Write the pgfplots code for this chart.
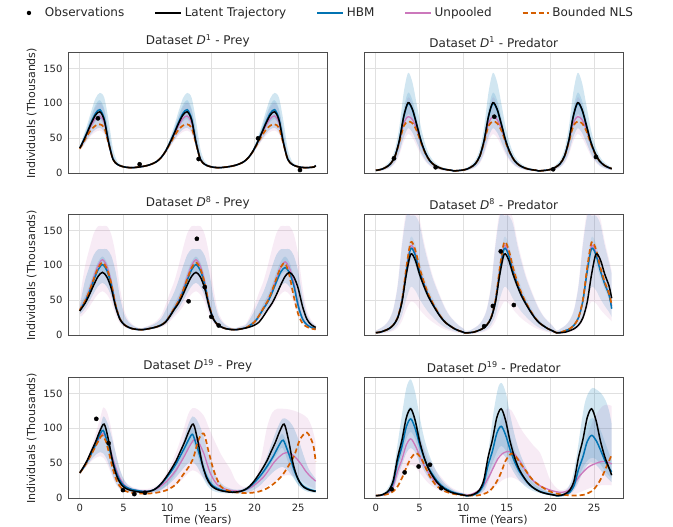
\documentclass[border=0pt]{standalone}
\usepackage{fontspec}
\setmainfont{DejaVu Sans}
\usepackage{pgfplots}
\usepackage{pgfplotstable}
\pgfplotsset{compat=1.18}
\usepgfplotslibrary{fillbetween}

\definecolor{hbm}{RGB}{1,115,178}
\definecolor{unp}{RGB}{204,120,188}
\definecolor{nls}{RGB}{213,94,0}
\definecolor{txt}{RGB}{38,38,38}

\pgfplotsset{
  panel/.style={
    scale only axis, width=259.5pt, height=121pt, anchor=south west,
    xmin=-1.35, xmax=28.35, ymin=-1, ymax=172,
    xtick={0,5,10,15,20,25}, ytick={0,50,100,150},
    xmajorgrids, ymajorgrids,
    major grid style={draw=black!12, line width=0.7pt},
    axis line style={draw=black!70, line width=1pt},
    major tick length=0pt,
    tick label style={font=\fontsize{10}{12}\selectfont, text=txt},
    xticklabel style={yshift=-2pt}, yticklabel style={xshift=-2pt},
    /pgf/number format/assume math mode=true,
    title style={font=\fontsize{12}{14}\selectfont, text=txt, yshift=-4pt},
    label style={font=\fontsize{11}{13}\selectfont, text=txt},
    xlabel style={yshift=4pt},
  },
  nox/.style={xticklabels={,,,,,}},
  noy/.style={yticklabels={,,,}},
  latline/.style={black, line width=1.5pt, smooth, tension=0.5},
  hbmline/.style={hbm, line width=1.5pt, smooth, tension=0.5},
  unpline/.style={unp, line width=1.3pt, smooth, tension=0.5},
  nlsline/.style={nls, line width=1.7pt, dash pattern=on 5pt off 3pt, smooth, tension=0.5},
  hbmband/.style={fill=hbm, fill opacity=0.18, draw=none},
  hbmband2/.style={fill=hbm, fill opacity=0.14, draw=none},
  unpband/.style={fill=unp, fill opacity=0.15, draw=none},
  env/.style={draw=none, smooth, tension=0.5, forget plot},
  obs/.style={only marks, mark=*, mark size=2.1pt, black, forget plot},
}

% panels D1 and D8: t, latent, model means and band edges
\pgfplotstableread{
t lat hbm unp nls hlo hhi hlo2 hhi2 ulo uhi
0 36.0 36.1 35.7 35.2 33.5 38.0 34.8 37.2 33.0 37.5
0.3 43.2 43.5 42.7 41.7 37.9 49.2 40.8 46.8 37.2 46.5
0.8 56.8 57.5 55.4 52.7 47.6 67.5 52.6 63.3 46.1 62.3
1.3 71.2 72.7 68.2 62.3 56.5 88.4 64.5 81.7 54.0 79.7
1.8 83.2 85.7 78.2 68.2 62.8 107.2 73.9 97.8 59.2 94.8
2.3 88.0 91.0 82.0 70.0 65.0 115.0 77.5 104.5 61.0 101.0
2.8 76.0 77.8 72.3 65.0 59.1 108.0 68.3 92.0 56.2 90.0
3.3 44.0 44.3 43.5 42.4 38.5 75.0 41.5 60.0 37.7 58.0
3.8 20.0 20.0 20.0 19.9 18.5 35.0 19.3 26.0 18.4 25.0
4.3 12.8 12.8 12.8 12.8 11.8 17.0 12.3 14.5 11.8 14.5
4.8 10.0 10.0 10.0 10.0 9.0 12.0 9.5 10.5 9.0 11.0
5.3 8.6 8.6 8.6 8.6 7.6 9.6 8.1 9.1 7.6 9.6
5.8 8.0 8.0 8.0 8.0 7.0 9.0 7.5 8.5 7.0 9.0
6.3 8.3 8.3 8.3 8.3 7.3 9.3 7.8 8.8 7.3 9.3
6.8 9.0 9.0 9.0 9.0 8.0 10.0 8.5 9.5 8.0 10.0
7.3 10.0 10.0 10.0 10.0 9.0 11.0 9.5 10.5 9.0 11.0
7.8 11.4 11.4 11.4 11.4 10.4 12.4 10.9 11.9 10.4 12.4
8.3 13.6 13.6 13.6 13.6 12.6 14.6 13.1 14.1 12.6 14.6
8.8 16.8 16.8 16.8 16.8 15.5 18.1 16.2 17.5 15.5 18.0
9.3 22.4 22.4 22.4 22.4 20.7 24.2 21.6 23.4 20.6 23.8
9.8 31.2 31.2 31.1 31.0 28.4 34.4 29.9 33.0 28.0 33.2
10.3 43.2 43.5 42.7 41.7 37.9 49.2 40.8 46.8 37.2 46.5
10.8 56.8 57.5 55.4 52.7 47.6 67.5 52.6 63.3 46.1 62.3
11.3 71.2 72.7 68.2 62.3 56.5 88.4 64.5 81.7 54.0 79.7
11.8 83.2 85.7 78.2 68.2 62.8 107.2 73.9 97.8 59.2 94.8
12.3 88.0 91.0 82.0 70.0 65.0 115.0 77.5 104.5 61.0 101.0
12.8 76.0 77.8 72.3 65.0 59.1 108.0 68.3 92.0 56.2 90.0
13.3 44.0 44.3 43.5 42.4 38.5 75.0 41.5 60.0 37.7 58.0
13.8 20.0 20.0 20.0 19.9 18.5 35.0 19.3 26.0 18.4 25.0
14.3 12.8 12.8 12.8 12.8 11.8 17.0 12.3 14.5 11.8 14.5
14.8 10.0 10.0 10.0 10.0 9.0 12.0 9.5 10.5 9.0 11.0
15.3 8.6 8.6 8.6 8.6 7.6 9.6 8.1 9.1 7.6 9.6
15.8 8.0 8.0 8.0 8.0 7.0 9.0 7.5 8.5 7.0 9.0
16.3 8.3 8.3 8.3 8.3 7.3 9.3 7.8 8.8 7.3 9.3
16.8 9.0 9.0 9.0 9.0 8.0 10.0 8.5 9.5 8.0 10.0
17.3 10.0 10.0 10.0 10.0 9.0 11.0 9.5 10.5 9.0 11.0
17.8 11.4 11.4 11.4 11.4 10.4 12.4 10.9 11.9 10.4 12.4
18.3 13.6 13.6 13.6 13.6 12.6 14.6 13.1 14.1 12.6 14.6
18.8 16.8 16.8 16.8 16.8 15.5 18.1 16.2 17.5 15.5 18.0
19.3 22.4 22.4 22.4 22.4 20.7 24.2 21.6 23.4 20.6 23.8
19.8 31.2 31.2 31.1 31.0 28.4 34.4 29.9 33.0 28.0 33.2
20.3 43.2 43.5 42.7 41.7 37.9 49.2 40.8 46.8 37.2 46.5
20.8 56.8 57.5 55.4 52.7 47.6 67.5 52.6 63.3 46.1 62.3
21.3 71.2 72.7 68.2 62.3 56.5 88.4 64.5 81.7 54.0 79.7
21.8 83.2 85.7 78.2 68.2 62.8 107.2 73.9 97.8 59.2 94.8
22.3 88.0 91.0 82.0 70.0 65.0 115.0 77.5 104.5 61.0 101.0
22.8 76.0 77.8 72.3 65.0 59.1 108.0 68.3 92.0 56.2 90.0
23.3 44.0 44.3 43.5 42.4 38.5 75.0 41.5 60.0 37.7 58.0
23.8 20.0 20.0 20.0 19.9 18.5 35.0 19.3 26.0 18.4 25.0
24.3 12.8 12.8 12.8 12.8 11.8 17.0 12.3 14.5 11.8 14.5
24.8 10.0 10.0 10.0 10.0 9.0 12.0 9.5 10.5 9.0 11.0
25.3 8.6 8.6 8.6 8.6 7.6 9.6 8.1 9.1 7.6 9.6
25.8 8.0 8.0 8.0 8.0 7.0 9.0 7.5 8.5 7.0 9.0
26.3 8.3 8.3 8.3 8.3 7.3 9.3 7.8 8.8 7.3 9.3
26.8 9.0 9.0 9.0 9.0 8.0 10.0 8.5 9.5 8.0 10.0
27.0 11.0 11.0 11.0 11.0 10.0 13.0 10.5 11.5 10.0 12.0
}\dAprey

\pgfplotstableread{
t lat hbm unp nls hlo hhi hlo2 hhi2 ulo uhi
0 4.2 4.2 4.2 4.2 3.1 5.4 3.6 4.8 3.0 5.0
0.2 4.5 4.5 4.5 4.5 3.2 5.8 3.9 5.1 3.1 5.3
0.7 5.9 5.9 5.9 5.9 4.1 7.9 5.0 6.7 3.9 6.8
1.2 8.9 8.9 8.9 8.9 6.0 12.1 7.5 10.1 5.6 10.0
1.7 13.8 13.8 13.8 13.8 9.1 19.1 11.6 15.7 8.3 15.3
2.2 24.6 24.6 24.4 24.3 16.0 34.5 20.7 28.1 14.2 26.8
2.7 47.1 47.0 45.3 44.6 30.2 66.7 39.5 53.8 26.6 51.0
3.2 81.4 80.9 71.2 67.6 51.9 115.7 68.2 93.0 45.5 87.7
3.7 101.0 100.0 81.0 74.0 64.3 143.7 84.6 115.4 56.3 108.7
4.2 91.2 90.5 76.6 71.5 58.1 129.7 76.4 104.2 50.9 98.2
4.7 68.7 68.4 62.7 60.6 43.9 97.5 57.6 78.5 38.5 74.1
5.2 45.1 45.0 43.5 43.0 28.9 63.9 37.8 51.5 25.5 48.8
5.7 28.5 28.5 28.1 28.0 18.4 40.1 23.9 32.5 16.4 31.0
6.2 17.7 17.7 17.6 17.6 11.6 24.7 14.9 20.2 10.4 19.5
6.7 11.8 11.8 11.8 11.8 7.9 16.3 10.0 13.5 7.1 13.1
7.2 8.4 8.4 8.4 8.4 5.7 11.4 7.1 9.6 5.3 9.5
7.7 6.2 6.2 6.2 6.2 4.3 8.3 5.3 7.1 4.0 7.1
8.2 5.0 5.0 5.0 5.0 3.6 6.5 4.3 5.7 3.4 5.8
8.7 4.2 4.2 4.2 4.2 3.1 5.4 3.6 4.8 3.0 5.0
8.9 3.5 3.5 3.5 3.5 2.6 4.4 3.0 4.0 2.6 4.2
9.4 3.8 3.8 3.8 3.8 2.8 4.8 3.3 4.3 2.8 4.6
9.9 4.5 4.5 4.5 4.5 3.2 5.8 3.9 5.1 3.1 5.3
10.4 5.9 5.9 5.9 5.9 4.1 7.9 5.0 6.7 3.9 6.8
10.9 8.9 8.9 8.9 8.9 6.0 12.1 7.5 10.1 5.6 10.0
11.4 13.8 13.8 13.8 13.8 9.1 19.1 11.6 15.7 8.3 15.3
11.9 24.6 24.6 24.4 24.3 16.0 34.5 20.7 28.1 14.2 26.8
12.4 47.1 47.0 45.3 44.6 30.2 66.7 39.5 53.8 26.6 51.0
12.9 81.4 80.9 71.2 67.6 51.9 115.7 68.2 93.0 45.5 87.7
13.4 101.0 100.0 81.0 74.0 64.3 143.7 84.6 115.4 56.3 108.7
13.9 91.2 90.5 76.6 71.5 58.1 129.7 76.4 104.2 50.9 98.2
14.4 68.7 68.4 62.7 60.6 43.9 97.5 57.6 78.5 38.5 74.1
14.9 45.1 45.0 43.5 43.0 28.9 63.9 37.8 51.5 25.5 48.8
15.4 28.5 28.5 28.1 28.0 18.4 40.1 23.9 32.5 16.4 31.0
15.9 17.7 17.7 17.6 17.6 11.6 24.7 14.9 20.2 10.4 19.5
16.4 11.8 11.8 11.8 11.8 7.9 16.3 10.0 13.5 7.1 13.1
16.9 8.4 8.4 8.4 8.4 5.7 11.4 7.1 9.6 5.3 9.5
17.4 6.2 6.2 6.2 6.2 4.3 8.3 5.3 7.1 4.0 7.1
17.9 5.0 5.0 5.0 5.0 3.6 6.5 4.3 5.7 3.4 5.8
18.4 4.2 4.2 4.2 4.2 3.1 5.4 3.6 4.8 3.0 5.0
18.6 3.5 3.5 3.5 3.5 2.6 4.4 3.0 4.0 2.6 4.2
19.1 3.8 3.8 3.8 3.8 2.8 4.8 3.3 4.3 2.8 4.6
19.6 4.5 4.5 4.5 4.5 3.2 5.8 3.9 5.1 3.1 5.3
20.1 5.9 5.9 5.9 5.9 4.1 7.9 5.0 6.7 3.9 6.8
20.6 8.9 8.9 8.9 8.9 6.0 12.1 7.5 10.1 5.6 10.0
21.1 13.8 13.8 13.8 13.8 9.1 19.1 11.6 15.7 8.3 15.3
21.6 24.6 24.6 24.4 24.3 16.0 34.5 20.7 28.1 14.2 26.8
22.1 47.1 47.0 45.3 44.6 30.2 66.7 39.5 53.8 26.6 51.0
22.6 81.4 80.9 71.2 67.6 51.9 115.7 68.2 93.0 45.5 87.7
23.1 101.0 100.0 81.0 74.0 64.3 143.7 84.6 115.4 56.3 108.7
23.6 91.2 90.5 76.6 71.5 58.1 129.7 76.4 104.2 50.9 98.2
24.1 68.7 68.4 62.7 60.6 43.9 97.5 57.6 78.5 38.5 74.1
24.6 45.1 45.0 43.5 43.0 28.9 63.9 37.8 51.5 25.5 48.8
25.1 28.5 28.5 28.1 28.0 18.4 40.1 23.9 32.5 16.4 31.0
25.6 17.7 17.7 17.6 17.6 11.6 24.7 14.9 20.2 10.4 19.5
26.1 11.8 11.8 11.8 11.8 7.9 16.3 10.0 13.5 7.1 13.1
26.6 8.4 8.4 8.4 8.4 5.7 11.4 7.1 9.6 5.3 9.5
27.0 6.6 6.6 6.6 6.6 4.6 8.9 5.6 7.5 4.3 7.6
}\dApred

\pgfplotstableread{
t lat hbm unp nls hlo hhi hlo2 hhi2 ulo uhi
0 34.7 35.0 35.0 35.0 33.5 36.0 34.0 35.5 33.0 36.5
0.1 36.7 38.0 38.9 38.4 30.8 48.9 36.9 44.9 26.6 60.5
0.6 45.7 48.0 49.5 48.6 38.3 78.5 46.1 56.3 32.7 98.7
1.1 58.0 62.1 64.7 63.2 48.5 98.0 58.7 71.9 41.1 123.7
1.6 72.0 78.7 82.9 80.5 60.1 115.1 73.1 89.7 50.7 145.8
2.1 84.3 93.8 99.9 96.4 70.3 123.0 85.7 105.3 59.1 156.0
2.6 90.0 101.0 108.0 104.0 75.0 123.0 91.5 112.5 63.0 156.0
3.1 83.4 92.7 98.6 95.2 69.5 123.0 84.7 104.1 58.5 156.0
3.6 67.0 72.7 76.3 74.3 55.9 113.8 67.9 83.3 47.3 144.2
4.1 40.8 42.6 43.7 43.0 34.2 91.0 41.1 50.1 29.4 114.8
4.6 22.8 23.2 23.4 23.2 19.3 54.6 22.7 27.3 17.1 67.8
5.1 15.0 15.1 15.1 15.1 12.8 29.6 14.7 17.4 11.8 35.5
5.6 11.3 11.3 11.3 11.3 9.7 18.7 10.9 12.7 9.3 21.5
6.1 9.2 9.2 9.2 9.2 8.0 13.6 8.7 10.0 7.8 14.9
6.6 8.3 8.3 8.3 8.3 7.2 10.7 7.8 8.9 7.2 11.2
7.1 8.0 8.0 8.0 8.0 7.0 9.4 7.5 8.5 7.0 9.6
7.3 8.2 8.2 8.2 8.2 7.2 10.7 7.7 8.8 7.1 11.2
7.8 9.2 9.2 9.2 9.2 8.0 12.5 8.7 10.0 7.8 13.5
8.3 10.5 10.5 10.5 10.5 9.1 14.7 10.1 11.7 8.7 16.4
8.8 12.1 12.1 12.1 12.1 10.4 18.2 11.7 13.7 9.8 20.8
9.3 14.6 14.6 14.6 14.6 12.5 23.9 14.3 16.9 11.5 28.2
9.8 18.7 18.9 19.0 18.9 15.9 35.3 18.5 22.1 14.3 42.9
10.3 26.9 27.5 27.9 27.6 22.7 48.9 26.9 32.5 19.9 60.5
10.8 36.7 38.0 38.9 38.4 30.8 61.4 36.9 44.9 26.6 76.6
11.3 45.7 48.0 49.5 48.6 38.3 78.5 46.1 56.3 32.7 98.7
11.8 58.0 62.1 64.7 63.2 48.5 98.0 58.7 71.9 41.1 123.7
12.3 72.0 78.7 82.9 80.5 60.1 115.1 73.1 89.7 50.7 145.8
12.8 84.3 93.8 99.9 96.4 70.3 123.0 85.7 105.3 59.1 156.0
13.3 90.0 101.0 108.0 104.0 75.0 123.0 91.5 112.5 63.0 156.0
13.8 83.4 92.7 98.6 95.2 69.5 123.0 84.7 104.1 58.5 156.0
14.3 67.0 72.7 76.3 74.3 55.9 113.8 67.9 83.3 47.3 144.2
14.8 40.8 42.6 43.7 43.0 34.2 91.0 41.1 50.1 29.4 114.8
15.3 22.8 23.2 23.4 23.2 19.3 54.6 22.7 27.3 17.1 67.8
15.8 15.0 15.1 15.1 15.1 12.8 29.6 14.7 17.4 11.8 35.5
16.3 11.3 11.3 11.3 11.3 9.7 18.7 10.9 12.7 9.3 21.5
16.8 9.2 9.2 9.2 9.2 8.0 13.6 8.7 10.0 7.8 14.9
17.3 8.3 8.3 8.3 8.3 7.2 10.7 7.8 8.9 7.2 11.2
17.8 8.0 8.0 8.0 8.0 7.0 9.4 7.5 8.5 7.0 9.6
18.0 8.2 8.2 8.2 8.2 7.2 10.7 7.7 8.8 7.1 11.2
18.5 9.2 9.2 9.2 9.2 8.0 12.5 8.7 10.0 7.8 13.5
19.0 10.5 10.5 10.5 10.5 9.1 14.7 10.1 11.7 8.7 16.4
19.5 12.1 14.6 14.6 14.6 12.5 23.9 14.3 16.9 11.5 28.2
20.0 14.6 18.8 19.0 19.0 15.9 35.3 18.5 22.1 14.3 42.9
20.5 18.7 27.3 27.7 27.7 22.7 48.9 26.9 32.5 19.9 60.5
21.0 26.9 37.6 38.5 38.5 30.8 61.4 36.9 44.9 26.6 76.6
21.5 36.7 47.2 48.9 48.9 38.3 78.5 46.1 56.3 32.7 98.7
22.0 45.7 60.6 63.6 63.6 48.5 98.0 58.7 71.9 41.1 123.7
22.5 58.0 76.3 81.1 81.1 60.1 115.1 73.1 89.7 50.7 145.8
23.0 72.0 90.4 97.3 97.3 70.3 123.0 85.7 105.3 59.1 156.0
23.5 84.3 97.0 105.0 103.0 75.0 123.0 91.5 112.5 63.0 156.0
24.0 90.0 89.3 96.1 85.0 69.5 123.0 84.7 104.1 58.5 156.0
24.5 83.4 70.6 74.8 55.0 55.9 113.8 67.9 83.3 47.3 144.2
25.0 67.0 41.9 43.2 30.0 34.2 91.0 41.1 50.1 29.4 114.8
25.5 40.8 23.0 23.3 17.0 19.3 54.6 22.7 27.3 17.1 67.8
26.0 22.8 15.0 15.0 12.0 12.8 29.6 14.7 17.4 11.8 35.5
26.5 15.0 11.3 11.3 9.5 9.7 18.7 10.9 12.7 9.3 21.5
27.0 11.3 9.2 9.2 8.5 8.0 13.6 8.7 10.0 7.8 14.9
}\dHprey

\pgfplotstableread{
t lat hbm unp nls hlo hhi hlo2 hhi2 ulo uhi
0 3.7 3.7 3.7 3.7 2.2 6.7 3.1 4.6 1.9 6.9
0.5 4.5 4.5 4.5 4.5 2.7 9.8 3.8 5.5 2.2 10.1
1.0 6.6 6.6 6.6 6.6 4.0 13.9 5.8 7.6 3.2 14.4
1.5 9.4 9.4 9.4 9.4 5.6 21.4 8.4 11.5 4.3 22.3
2.0 14.5 14.6 14.6 14.7 8.6 36.6 13.1 17.6 6.4 38.2
2.5 24.8 25.1 25.3 25.5 14.8 70.2 22.7 30.1 10.8 73.4
3.0 47.6 48.9 49.5 50.3 28.4 129.0 44.1 57.7 20.4 135.0
3.5 87.5 92.0 94.3 97.1 52.2 171.0 81.5 106.0 37.2 179.0
4.0 116.0 124.0 128.0 133.0 69.2 171.0 107.5 140.5 48.2 179.0
4.5 108.0 114.9 118.4 122.7 64.4 171.0 100.6 130.8 45.8 179.0
5.0 87.5 92.0 94.3 97.1 52.2 159.2 81.5 106.0 37.2 166.7
5.5 70.4 73.3 74.7 76.5 42.0 129.0 65.6 85.3 30.0 135.0
6.0 55.6 57.4 58.3 59.4 33.2 103.8 51.7 67.4 23.8 108.6
6.5 44.2 45.3 45.8 46.5 26.4 82.0 40.9 53.6 19.0 85.7
7.0 33.9 34.5 34.8 35.2 20.2 65.2 31.2 41.1 14.6 68.1
7.5 24.8 25.1 25.3 25.5 14.8 50.0 22.7 30.1 10.8 52.3
8.0 18.0 18.0 18.0 18.0 10.8 36.6 16.4 21.9 8.0 38.2
8.5 13.4 13.4 13.4 13.4 8.0 26.6 12.1 16.3 6.0 27.7
9.0 9.4 9.4 9.4 9.4 5.6 19.8 8.4 11.5 4.3 20.6
9.5 6.6 6.6 6.6 6.6 4.0 13.9 5.8 7.6 3.2 14.4
10.0 4.5 4.5 4.5 4.5 2.7 9.8 3.8 5.5 2.2 10.1
10.2 3.4 3.4 3.4 3.4 2.0 6.7 2.8 4.2 1.8 6.9
10.7 3.7 3.7 3.7 3.7 2.2 6.7 3.1 4.6 1.9 6.9
11.2 4.5 4.5 4.5 4.5 2.7 9.8 3.8 5.5 2.2 10.1
11.7 6.6 6.6 6.6 6.6 4.0 13.9 5.8 7.6 3.2 14.4
12.2 9.4 9.4 9.4 9.4 5.6 21.4 8.4 11.5 4.3 22.3
12.7 14.5 14.6 14.6 14.7 8.6 36.6 13.1 17.6 6.4 38.2
13.2 24.8 25.1 25.3 25.5 14.8 70.2 22.7 30.1 10.8 73.4
13.7 47.6 48.9 49.5 50.3 28.4 129.0 44.1 57.7 20.4 135.0
14.2 87.5 92.0 94.3 97.1 52.2 171.0 81.5 106.0 37.2 179.0
14.7 116.0 124.0 128.0 133.0 69.2 171.0 107.5 140.5 48.2 179.0
15.2 108.0 114.9 118.4 122.7 64.4 171.0 100.6 130.8 45.8 179.0
15.7 87.5 92.0 94.3 97.1 52.2 159.2 81.5 106.0 37.2 166.7
16.2 70.4 73.3 74.7 76.5 42.0 129.0 65.6 85.3 30.0 135.0
16.7 55.6 57.4 58.3 59.4 33.2 103.8 51.7 67.4 23.8 108.6
17.2 44.2 45.3 45.8 46.5 26.4 82.0 40.9 53.6 19.0 85.7
17.7 33.9 34.5 34.8 35.2 20.2 65.2 31.2 41.1 14.6 68.1
18.2 24.8 25.1 25.3 25.5 14.8 50.0 22.7 30.1 10.8 52.3
18.7 18.0 18.0 18.0 18.0 10.8 36.6 16.4 21.9 8.0 38.2
19.2 13.4 13.4 13.4 13.4 8.0 26.6 12.1 16.3 6.0 27.7
19.7 9.4 9.4 9.4 9.4 5.6 19.8 8.4 11.5 4.3 20.6
20.2 6.6 6.6 6.6 6.6 4.0 13.9 5.8 7.6 3.2 14.4
20.7 3.4 3.7 3.7 3.7 2.2 6.7 3.1 4.6 1.9 6.9
21.2 3.7 4.5 4.5 4.5 2.7 9.8 3.8 5.5 2.2 10.1
21.7 4.5 6.6 6.6 6.6 4.0 13.9 5.8 7.6 3.2 14.4
22.2 6.6 9.4 9.4 9.4 5.6 21.4 8.4 11.5 4.3 22.3
22.7 9.4 14.6 14.6 14.7 8.6 36.6 13.1 17.6 6.4 38.2
23.2 14.5 25.1 25.3 25.5 14.8 70.2 22.7 30.1 10.8 73.4
23.7 24.8 48.9 49.5 50.3 28.4 129.0 44.1 57.7 20.4 135.0
24.2 47.6 92.0 94.3 97.1 52.2 171.0 81.5 106.0 37.2 179.0
24.7 87.5 124.0 128.0 133.0 69.2 171.0 107.5 140.5 48.2 179.0
25.2 116.0 114.9 118.4 122.7 64.4 171.0 100.6 130.8 45.8 179.0
25.7 108.0 92.0 94.3 97.1 52.2 159.2 81.5 106.0 37.2 166.7
26.2 87.5 73.3 74.7 76.5 42.0 129.0 65.6 85.3 30.0 135.0
26.7 70.4 57.4 58.3 59.4 33.2 103.8 51.7 67.4 23.8 108.6
27.0 53.0 38.0 42.0 44.0 26.0 88.0 40.0 55.0 20.0 92.0
}\dHpred

\newcommand{\tabpanel}[1]{%
  \addplot[env, name path=uh] table[x=t, y=uhi] {#1};
  \addplot[env, name path=ul] table[x=t, y=ulo] {#1};
  \addplot[unpband, forget plot] fill between[of=uh and ul];
  \addplot[env, name path=hh] table[x=t, y=hhi] {#1};
  \addplot[env, name path=hl] table[x=t, y=hlo] {#1};
  \addplot[hbmband, forget plot] fill between[of=hh and hl];
  \addplot[env, name path=ih] table[x=t, y=hhi2] {#1};
  \addplot[env, name path=il] table[x=t, y=hlo2] {#1};
  \addplot[hbmband2, forget plot] fill between[of=ih and il];
  \addplot[unpline, forget plot] table[x=t, y=unp] {#1};
  \addplot[hbmline, forget plot] table[x=t, y=hbm] {#1};
  \addplot[nlsline, forget plot] table[x=t, y=nls] {#1};
  \addplot[latline, forget plot] table[x=t, y=lat] {#1};
}

\begin{document}
\begin{tikzpicture}

% ---------------- D1 prey
\begin{axis}[panel, nox, at={(68pt,353pt)},
  title={Dataset \textit{D}\textsuperscript{1} - Prey},
  ylabel={Individuals (Thousands)},
  legend columns=5,
  legend style={at={(0.994,1.331)}, anchor=center, draw=none, fill=none,
    font=\fontsize{12}{14}\selectfont, text=txt,
    nodes={inner xsep=3pt, inner ysep=1pt},
    /tikz/every even column/.append style={column sep=27pt}}]
\addlegendimage{legend image code/.code={\path[draw=none] (0pt,0pt) -- (26pt,0pt); \fill[black, draw=none] (13pt,0pt) circle (2.2pt);}}
\addlegendentry{Observations}
\addlegendimage{latline, legend image code/.code={\draw (0pt,0pt) -- (26pt,0pt);}}
\addlegendentry{Latent Trajectory}
\addlegendimage{hbmline, legend image code/.code={\draw (0pt,0pt) -- (26pt,0pt);}}
\addlegendentry{HBM}
\addlegendimage{unpline, legend image code/.code={\draw (0pt,0pt) -- (26pt,0pt);}}
\addlegendentry{Unpooled}
\addlegendimage{nlsline, legend image code/.code={\draw (0pt,0pt) -- (26pt,0pt);}}
\addlegendentry{Bounded NLS}
\tabpanel{\dAprey}
\addplot[obs] coordinates {(2.08,78.6) (6.85,12.9) (13.6,20.4) (20.4,50) (25.2,4.7)};
\end{axis}

% ---------------- D1 predator
\begin{axis}[panel, nox, noy, at={(364pt,353pt)},
  title={Dataset \textit{D}\textsuperscript{1} - Predator}]
\tabpanel{\dApred}
\addplot[obs] coordinates {(2.08,21.4) (6.85,8.6) (13.56,80.9) (20.3,5.7) (25.2,23.3)};
\end{axis}

% ---------------- D8 prey
\begin{axis}[panel, nox, at={(68pt,191pt)},
  title={Dataset \textit{D}\textsuperscript{8} - Prey},
  ylabel={Individuals (Thousands)}]
\tabpanel{\dHprey}
\addplot[obs] coordinates {(12.45,48.6) (13.4,138) (14.3,69) (15.05,26.5) (15.9,14)};
\end{axis}

% ---------------- D8 predator (wide bands, lighter fills)
\begin{axis}[panel, nox, noy, at={(364pt,191pt)},
  title={Dataset \textit{D}\textsuperscript{8} - Predator},
  hbmband/.style={fill=hbm, fill opacity=0.13, draw=none},
  hbmband2/.style={fill=hbm, fill opacity=0.09, draw=none},
  unpband/.style={fill=unp, fill opacity=0.13, draw=none}]
\tabpanel{\dHpred}
\addplot[obs] coordinates {(12.4,13) (13.4,41.9) (14.3,120) (15.8,43.3)};
\end{axis}

% ---------------- D19 prey
\begin{axis}[panel, at={(68pt,28pt)},
  title={Dataset \textit{D}\textsuperscript{19} - Prey},
  ylabel={Individuals (Thousands)}, xlabel={Time (Years)}]
\addplot[env, name path=uh] coordinates {(0,37) (0.5,48) (1.0,62) (1.5,80) (2.0,100) (2.4,118) (2.7,130) (3.1,124) (3.5,105) (4.0,72) (4.5,45) (5.0,28) (5.5,20) (6.0,16) (7.0,13) (8.0,14) (9.0,20) (10.0,38) (11.0,65) (11.8,95) (12.4,120) (12.9,129) (13.5,127) (14.2,118) (14.8,100) (15.5,80) (16.2,62) (16.8,50) (17.3,40) (17.8,26) (18.4,18) (19.0,16) (19.6,19) (20.2,30) (20.8,60) (21.4,100) (22.0,122) (22.6,128) (23.3,128) (24.0,127) (24.8,124) (25.5,120) (26.1,114) (26.6,100) (27.0,80)};
\addplot[env, name path=ul] coordinates {(0,35) (0.5,42) (1.0,49) (1.5,55) (2.0,59) (2.4,60) (2.7,58) (3.1,50) (3.5,38) (4.0,23) (4.5,14) (5.0,10) (6.0,8) (7.0,7.5) (8.0,7.5) (9.0,8.5) (10.0,12) (11.0,19) (11.8,28) (12.4,36) (12.9,40) (13.5,37) (14.2,28) (14.8,19) (15.5,12) (16.5,8.5) (17.5,7.5) (18.5,7) (19.5,8) (20.5,11) (21.5,18) (22.5,26) (23.3,32) (24.0,33) (24.8,30) (25.6,23) (26.3,17) (27.0,13)};
\addplot[unpband, forget plot] fill between[of=uh and ul];
\addplot[env, name path=hh] coordinates {(0,37) (0.5,47) (1.0,60) (1.5,74) (2.0,90) (2.4,105) (2.7,117) (3.1,110) (3.5,95) (4.0,70) (4.5,45) (5.0,28) (5.5,19) (6.0,15) (7.0,12) (8.0,12) (9.0,17) (10.0,30) (11.0,52) (11.8,80) (12.4,105) (12.9,117) (13.4,112) (14.0,95) (14.6,68) (15.2,42) (15.8,27) (16.5,18) (17.5,13) (18.5,13) (19.5,20) (20.5,36) (21.3,56) (22.0,80) (22.6,100) (23.2,114) (23.8,112) (24.4,103) (25.0,85) (25.6,62) (26.2,42) (27.0,28)};
\addplot[env, name path=hl] coordinates {(0,35.5) (0.5,42) (1.0,50) (1.5,58) (2.0,64) (2.4,66) (2.7,64) (3.1,56) (3.5,42) (4.0,25) (4.5,15) (5.0,10.5) (6.0,8) (7.0,7.5) (8.0,8) (9.0,10) (10.0,18) (11.0,30) (11.8,42) (12.4,50) (12.9,52) (13.4,46) (14.0,32) (14.6,18) (15.2,11) (16.0,8) (17.0,7) (18.5,7) (19.5,9.5) (20.5,17) (21.3,27) (22.0,36) (22.6,42) (23.2,45) (23.8,40) (24.4,30) (25.0,19) (25.6,12) (26.2,9) (27.0,7.5)};
\addplot[hbmband, forget plot] fill between[of=hh and hl];
\addplot[env, name path=ih] coordinates {(0,36.5) (1.0,58) (2.0,87) (2.7,104) (3.5,75) (4.0,50) (4.5,32) (5.0,21) (6.0,13) (7.5,10) (9.0,14) (10.0,25) (11.0,46) (12.0,78) (12.9,101) (13.7,75) (14.2,50) (14.7,32) (15.5,19) (16.5,12) (18.0,10.5) (19.5,17) (20.5,31) (21.5,53) (22.5,78) (23.2,92) (24.0,69) (24.5,48) (25.0,31) (25.5,21) (26.5,13) (27.0,11.5)};
\addplot[env, name path=il] coordinates {(0,35.5) (1.0,53) (2.0,76) (2.7,88) (3.5,57) (4.0,37) (4.5,23) (5.0,16) (6.0,11) (7.5,8.5) (9.0,11) (10.0,19) (11.0,36) (12.0,62) (12.9,80) (13.7,52) (14.2,32) (14.7,20) (15.5,13) (16.5,10) (18.0,8.5) (19.5,13) (20.5,24) (21.5,42) (22.5,62) (23.2,72) (24.0,46) (24.5,30) (25.0,19) (25.5,14) (26.5,10) (27.0,9)};
\addplot[hbmband2, forget plot] fill between[of=ih and il];
\addplot[unpline, forget plot] coordinates {(0,36.2) (0.5,45) (1.0,56) (1.5,68) (2.0,81) (2.4,89.5) (2.7,93) (3.1,83) (3.5,69) (4.0,48) (4.5,31) (5.0,20.5) (5.5,15) (6.0,12.5) (7.0,10.5) (8.0,10.5) (8.5,12) (9.0,15) (9.5,19.5) (10.0,25) (10.5,32) (11.0,40) (11.5,50) (12.0,61) (12.5,73) (13.0,83) (13.2,84.4) (13.6,80) (14.2,64) (14.6,48) (14.9,37) (15.3,27) (15.7,20) (16.2,15.5) (16.8,12.5) (17.5,11) (18.2,10.5) (18.8,11.5) (19.5,15) (20.2,21) (21.0,30) (21.6,40) (22.2,51) (22.8,59) (23.3,64) (23.7,65.5) (24.2,63.5) (24.8,57) (25.4,47.5) (25.9,38) (26.5,30) (27.0,24.5)};
\addplot[hbmline, forget plot] coordinates {(0,36.2) (0.5,45.4) (1.0,56.5) (1.5,68.5) (2.0,82.8) (2.4,93.4) (2.7,97) (3.1,82.8) (3.5,65.9) (4.0,43.6) (4.5,27.6) (5.0,18.7) (5.5,14.7) (6.0,12.5) (7.0,10.2) (7.5,9.6) (8.5,12.2) (9.5,23.0) (10.0,30.5) (10.5,38.9) (11.0,48.9) (11.5,60.6) (12.0,72.3) (12.5,84.8) (12.9,91.5) (13.3,78.1) (13.7,62.3) (14.2,41.4) (14.7,26.4) (15.2,18.0) (15.7,14.3) (16.5,10.9) (17.5,9.1) (18.4,9.9) (19.1,13.3) (19.9,21.5) (20.6,31.3) (21.1,39.5) (21.6,48.9) (22.1,59.0) (22.6,71.0) (23.0,80.0) (23.3,83) (23.7,71.0) (24.1,56.8) (24.6,38.0) (25.1,24.5) (25.6,17.0) (26.1,13.6) (26.6,11.5) (27.0,10.4)};
\addplot[nlsline, forget plot] coordinates {(0,36.2) (0.5,45) (1.0,55.5) (1.5,67) (2.0,79) (2.3,86) (2.6,90) (3.0,81) (3.4,62) (3.8,41) (4.3,23) (4.8,14) (5.3,10) (6.0,7.8) (7.0,6.8) (8.1,7) (9.0,8.5) (10.0,12) (11.0,20) (11.9,35) (12.5,45.5) (13.0,58) (13.6,84) (14.2,92.5) (14.7,69) (15.3,41) (16.1,17.6) (17.2,10) (18.2,8) (19.1,7.4) (20.3,9) (21.4,14) (22.4,23) (23.3,35) (24.5,60) (25.2,84) (26.0,94) (26.7,77) (27.0,52)};
\addplot[latline, forget plot] coordinates {(0,36.4) (0.3,42.3) (0.8,53.1) (1.3,66.8) (1.8,80.5) (2.3,96.2) (2.8,106) (3.3,82.5) (3.8,50.1) (4.3,29.6) (4.8,18.8) (5.3,13.9) (5.8,11.4) (6.3,10.0) (6.8,9.0) (7.3,8.6) (7.5,9.0) (8.0,10.0) (8.5,12.4) (9.0,16.8) (9.5,23.7) (10.0,32.5) (10.5,42.3) (11.0,53.1) (11.5,66.8) (12.0,80.5) (12.5,96.2) (13.0,106) (13.5,82.5) (14.0,50.1) (14.5,29.6) (15.0,18.8) (15.5,13.9) (16.0,11.4) (16.5,10.0) (17.0,9.0) (17.5,8.6) (17.9,9.0) (18.4,10.0) (18.9,12.4) (19.4,16.8) (19.9,23.7) (20.4,32.5) (20.9,42.3) (21.4,53.1) (21.9,66.8) (22.4,80.5) (22.9,96.2) (23.4,106) (23.9,82.5) (24.4,50.1) (24.9,29.6) (25.4,18.8) (25.9,13.9) (26.4,11.4) (26.9,10.0) (27.0,9.8)};
\addplot[obs] coordinates {(1.89,113.6) (3.3,78.8) (4.94,11.7) (6.24,6) (7.46,7.9)};
\end{axis}

% ---------------- D19 predator
\begin{axis}[panel, noy, at={(364pt,28pt)},
  title={Dataset \textit{D}\textsuperscript{19} - Predator},
  xlabel={Time (Years)}]
\addplot[env, name path=uh] coordinates {(0,4.5) (1.0,7) (1.5,12) (2.0,25) (2.5,52) (3.0,76) (3.5,100) (4.0,110) (4.5,104) (5.0,90) (5.5,74) (6.0,60) (6.5,48) (7.0,38) (7.5,30) (8.0,23) (8.5,17) (9.0,13) (10.0,8) (11.0,6) (11.5,8) (12.0,13) (12.5,24) (13.0,45) (13.5,75) (14.0,100) (14.5,118) (15.0,128) (15.5,126) (16.0,115) (16.5,102) (17.0,92) (17.5,84) (18.0,76) (18.8,65) (19.4,45) (19.9,28) (20.5,17) (21.0,12) (21.5,12) (22.0,16) (22.5,25) (23.0,40) (23.5,60) (24.0,82) (24.5,100) (25.0,115) (25.5,125) (26.0,132) (26.5,134) (27.0,132)};
\addplot[env, name path=ul] coordinates {(0,3.2) (1.0,4.5) (1.5,6) (2.0,10) (2.5,20) (3.0,31) (3.5,42) (4.0,48) (4.5,45) (5.0,37) (5.5,29) (6.0,22) (6.5,17) (7.0,13) (7.5,10) (8.5,6.5) (9.5,4.5) (10.5,3.5) (11.5,3.5) (12.0,4.5) (12.5,6.5) (13.0,10) (13.5,15) (14.0,21) (14.5,26) (15.0,29) (15.5,30) (16.0,28) (16.5,24) (17.0,20) (17.5,16.5) (18.0,13.5) (18.8,10) (19.9,7) (21.0,5) (22.0,4.5) (22.5,5.5) (23.0,7) (23.5,9.5) (24.0,12) (24.5,14.5) (25.0,16.5) (25.5,18) (26.0,19) (26.5,19) (27.0,18.5)};
\addplot[unpband, forget plot] fill between[of=uh and ul];
\addplot[env, name path=hh] coordinates {(0,4.5) (0.5,5.5) (1.0,9) (1.5,17) (2.0,36) (2.5,78) (3.0,120) (3.5,158) (4.0,170) (4.5,152) (5.0,118) (5.5,88) (6.0,66) (6.5,50) (7.0,37) (7.5,27) (8.0,20) (8.5,15) (9.0,11) (9.5,8.5) (10.0,7) (10.5,6) (11.0,7) (11.5,10) (12.0,17) (12.5,36) (13.0,78) (13.5,125) (14.0,158) (14.4,165) (14.9,150) (15.4,118) (15.9,90) (16.4,68) (16.9,52) (17.4,39) (17.9,29) (18.4,21) (19.0,15) (19.7,10) (20.4,7.5) (21.0,7) (21.5,9) (22.0,15) (22.5,30) (23.0,62) (23.5,105) (23.9,135) (24.3,150) (24.8,158) (25.3,155) (25.8,150) (26.3,140) (26.7,125) (27.0,106)};
\addplot[env, name path=hl] coordinates {(0,3.2) (1.0,5) (1.5,7) (2.0,13) (2.5,30) (3.0,48) (3.5,65) (4.0,72) (4.5,66) (5.0,52) (5.5,40) (6.0,30) (6.5,22) (7.0,16) (7.5,12) (8.0,9) (9.0,5.5) (10.0,3.5) (11.0,3) (11.5,4) (12.0,7) (12.5,13) (13.0,28) (13.5,45) (14.0,60) (14.4,64) (14.9,58) (15.4,46) (15.9,35) (16.4,26) (16.9,19.5) (17.4,14.5) (18.0,10.5) (19.0,6.5) (20.0,4) (21.0,3) (21.5,3.5) (22.0,5) (22.5,9) (23.0,18) (23.5,32) (24.0,44) (24.5,51) (25.0,50) (25.5,44) (26.0,36) (26.5,29) (27.0,23)};
\addplot[hbmband, forget plot] fill between[of=hh and hl];
\addplot[env, name path=ih] coordinates {(0,4) (1.0,7) (1.5,13) (2.0,28) (2.5,62) (3.0,92) (3.5,121) (4.0,131) (4.5,116) (5.0,92) (5.5,70) (6.0,53) (6.5,41) (7.0,31) (7.5,23) (8.0,17) (8.5,13) (9.0,10) (10.0,6.5) (11.0,5.5) (11.5,8) (12.0,13) (12.5,27) (13.0,57) (13.5,92) (14.0,115) (14.4,124.5) (14.9,112) (15.4,89) (15.9,69) (16.4,53) (16.9,41) (17.4,31) (18.0,22) (18.7,15) (19.5,10) (20.5,6) (21.3,5.5) (21.8,8) (22.3,14) (22.8,28) (23.3,56) (23.8,88) (24.3,108) (24.8,115) (25.3,108) (25.8,95) (26.3,78) (26.7,64) (27.0,54)};
\addplot[env, name path=il] coordinates {(0,3.6) (1.0,5.5) (1.5,8.5) (2.0,18) (2.5,42) (3.0,62) (3.5,85) (4.0,95) (4.5,85) (5.0,66) (5.5,50) (6.0,38) (6.5,29) (7.0,22) (7.5,16) (8.0,12) (8.5,9) (9.0,7) (10.0,4.5) (11.0,4) (11.5,5.5) (12.0,9) (12.5,17) (13.0,38) (13.5,55) (14.0,70) (14.4,75) (14.9,68) (15.4,54) (15.9,42) (16.4,32) (16.9,24.5) (17.4,18.5) (18.0,13) (18.7,9) (19.5,6) (20.5,4) (21.3,3.8) (21.8,5.5) (22.3,9) (22.8,17) (23.3,32) (23.8,46) (24.3,55) (24.8,58) (25.3,55) (25.8,47) (26.3,38) (26.7,32) (27.0,28)};
\addplot[hbmband2, forget plot] fill between[of=ih and il];
\addplot[unpline, forget plot] coordinates {(0,3.8) (0.5,4.3) (1.0,5.0) (1.5,8.2) (2.0,17.4) (2.5,39.1) (3.0,55.8) (3.5,76.7) (4.0,85) (4.5,75.8) (5.0,61.6) (5.5,47.4) (6.0,36.6) (6.5,27.8) (7.0,21.5) (7.5,16.5) (8.0,12.8) (8.5,9.9) (9.0,7.8) (9.5,6.3) (10.0,5.3) (10.5,4.5) (11.0,6) (11.5,9) (12.0,13.5) (12.5,21) (13.0,32) (13.5,45) (14.0,57) (14.5,64) (15.15,67) (15.8,64) (16.5,53) (17.2,38) (17.8,28) (18.5,20) (19.2,15.5) (19.9,12) (20.6,9.5) (21.3,8.5) (22.0,11) (22.6,19) (23.0,26) (23.4,33) (24.0,41) (24.5,46) (25.2,50) (25.8,52.4) (26.2,52.7) (26.6,51.5) (27.0,49)};
\addplot[hbmline, forget plot] coordinates {(0,3.8) (0.5,4.2) (1.0,6.1) (1.5,10.5) (2.0,22.8) (2.5,52.0) (3.0,74.4) (3.5,102.4) (4.0,113.6) (4.5,100.1) (5.0,77.7) (5.5,58.7) (6.0,44.1) (6.5,34.0) (7.0,25.0) (7.5,18.3) (8.0,13.8) (8.5,10.5) (9.0,8.0) (9.5,6.5) (10.0,5.3) (10.35,3.6) (10.85,4.0) (11.35,5.6) (11.85,9.6) (12.35,20.8) (12.85,47.2) (13.35,67.5) (13.85,92.9) (14.35,103) (14.85,90.8) (15.35,70.5) (15.85,53.3) (16.35,40.1) (16.85,30.9) (17.35,22.8) (17.85,16.7) (18.35,12.7) (18.85,9.6) (19.35,7.4) (19.85,6.1) (20.35,5.0) (20.7,3.5) (21.2,3.9) (21.7,5.0) (22.2,8.6) (22.7,18.3) (23.2,41.3) (23.7,59.0) (24.2,81.2) (24.7,90) (25.2,83) (25.7,69.6) (26.2,54.6) (26.7,43.1) (27.0,38)};
\addplot[nlsline, forget plot] coordinates {(0,3.8) (0.5,4.2) (1.0,5.0) (1.5,6.5) (2.0,10) (2.5,17) (3.0,29) (3.5,44) (4.0,57) (4.6,64.6) (5.2,57) (5.7,44) (6.2,31) (6.8,20) (7.4,13.5) (8.0,9.5) (9.0,6) (10.0,4.5) (11.0,3.8) (11.7,4.2) (12.3,6) (13.0,10) (13.6,19) (14.1,30) (14.5,42) (14.85,53.6) (15.5,64) (16.0,60) (16.6,49) (17.2,39) (17.7,30) (18.2,23.5) (18.8,18) (19.5,12.5) (20.3,8) (21.2,5.5) (22.2,4.2) (23.0,4.0) (23.8,5) (24.4,8) (24.9,12) (25.5,22) (26.05,35) (26.5,48) (27.0,62)};
\addplot[latline, forget plot] coordinates {(0,3.8) (0.5,4.3) (1.0,6.6) (1.5,11.6) (2.0,25.5) (2.5,58.4) (3.0,83.7) (3.5,115.4) (4.0,128) (4.5,111.6) (5.0,82.5) (5.5,59.7) (6.0,43.2) (6.5,31.9) (7.0,23.0) (7.5,16.7) (8.0,12.3) (8.5,9.1) (9.0,7.2) (9.5,5.7) (10.0,4.7) (10.35,3.8) (10.85,4.3) (11.35,6.6) (11.85,11.6) (12.35,25.5) (12.85,58.4) (13.35,83.7) (13.85,115.4) (14.35,128) (14.85,111.6) (15.35,82.5) (15.85,59.7) (16.35,43.2) (16.85,31.9) (17.35,23.0) (17.85,16.7) (18.35,12.3) (18.85,9.1) (19.35,7.2) (19.85,5.7) (20.35,4.7) (20.7,3.8) (21.2,4.3) (21.7,6.6) (22.2,11.6) (22.7,25.5) (23.2,58.4) (23.7,83.7) (24.2,115.4) (24.7,128) (25.2,111.6) (25.7,82.5) (26.2,59.7) (26.7,43.2) (27.0,33)};
\addplot[obs] coordinates {(1.82,13) (3.3,37) (4.9,45.5) (6.2,47.9) (7.5,14.5)};
\end{axis}

\pgfresetboundingbox
\useasboundingbox (0pt,0pt) rectangle (673pt,527pt);
\end{tikzpicture}
\end{document}
